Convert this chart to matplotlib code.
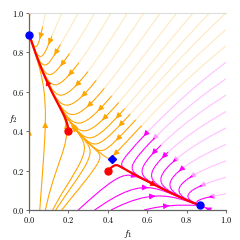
import numpy as np
import matplotlib
matplotlib.use("Agg")
import matplotlib.pyplot as plt
from matplotlib.colors import ListedColormap
from matplotlib.path import Path
from matplotlib.patches import PathPatch

plt.rcParams['font.family'] = 'serif'
plt.rcParams['font.serif'] = ['cmr10', 'DejaVu Serif']
plt.rcParams['mathtext.fontset'] = 'cm'
plt.rcParams['axes.formatter.use_mathtext'] = True

# fixed points
stable_A = (0.0, 0.89)
stable_B = (0.87, 0.025)
saddle = (0.42, 0.26)

# initial conditions of the red trajectories
start_x = [0.2, 0.4]
start_y = [0.4, 0.2]

# slow manifold through the fixed points
manifold_x = [0.0, 0.1, 0.2, 0.3, 0.42, 0.5, 0.6, 0.87, 1.0]
manifold_y = [0.89, 0.65, 0.44, 0.34, 0.26, 0.2, 0.14, 0.025, 0.0]

ticks = [0.0, 0.2, 0.4, 0.6, 0.8, 1.0]

coef = np.polyfit(manifold_x, manifold_y, 4)
dcoef = np.polyder(coef)
k_fast = 2.2
c_slow = 3.0


def field(x, y):
    m = np.polyval(coef, x)
    dm = np.polyval(dcoef, x)
    phi = y - m
    g = -c_slow * x * (x - saddle[0]) * (x - stable_B[0])
    nx = (x + 0.45) * np.tanh((x / 0.15) ** 2)
    ny = y + 0.45
    u = -k_fast * phi * nx + g
    v = -k_fast * phi * ny + g * dm
    return u, v


def rk4(x, y, dt, n):
    xs, ys = [x], [y]
    for _ in range(n):
        k1 = field(x, y)
        k2 = field(x + dt / 2 * k1[0], y + dt / 2 * k1[1])
        k3 = field(x + dt / 2 * k2[0], y + dt / 2 * k2[1])
        k4 = field(x + dt * k3[0], y + dt * k3[1])
        x = x + dt / 6 * (k1[0] + 2 * k2[0] + 2 * k3[0] + k4[0])
        y = y + dt / 6 * (k1[1] + 2 * k2[1] + 2 * k3[1] + k4[1])
        xs.append(x)
        ys.append(y)
    return np.array(xs), np.array(ys)


X, Y = np.meshgrid(np.linspace(0, 1, 101), np.linspace(0, 1, 101))
U, V = field(X, Y)
fx, fy = rk4(X.copy(), Y.copy(), 0.01, 6000)
basin = (fx[-1] > saddle[0]).astype(float)

cmap = ListedColormap(['orange', 'magenta'])

fig = plt.figure(figsize=(2.4, 2.4), dpi=100)
ax = fig.add_axes([29 / 240, 30 / 240, 197 / 240, 197 / 240])

inside = PathPatch(Path([(-0.5, -0.5), (1.5, -0.5), (-0.5, 1.5)]),
                   transform=ax.transData, visible=False)
outside = PathPatch(Path([(-0.5, 1.5), (1.5, -0.5), (1.5, 1.5)]),
                    transform=ax.transData, visible=False)

for clip, alpha in [(inside, 1.0), (outside, 0.25)]:
    n_before = len(ax.patches)
    sp = ax.streamplot(X, Y, U, V, color=basin, cmap=cmap, norm=plt.Normalize(0, 1),
                       density=0.46, linewidth=0.8, arrowsize=0.8,
                       broken_streamlines=False)
    sp.lines.set_alpha(alpha)
    sp.lines.set_clip_path(clip)
    for p in ax.patches[n_before:]:
        p.set_alpha(alpha)
        p.set_clip_path(clip)

for x0, y0 in zip(start_x, start_y):
    tx, ty = rk4(np.array(x0), np.array(y0), 0.005, 12000)
    tx, ty = np.ravel(tx), np.ravel(ty)
    end = tx[-1], ty[-1]
    keep = np.hypot(tx - end[0], ty - end[1]) > 0.004
    tx, ty = tx[keep], ty[keep]
    ax.plot(tx, ty, color='red', lw=1.6, zorder=4)
    arc = np.concatenate([[0], np.cumsum(np.hypot(np.diff(tx), np.diff(ty)))])
    i = np.searchsorted(arc, arc[-1] / 2)
    j = np.searchsorted(arc, arc[i] + 0.02)
    ax.annotate('', xy=(tx[j], ty[j]), xytext=(tx[i], ty[i]),
                arrowprops=dict(arrowstyle='-|>', color='red', lw=0.5,
                                mutation_scale=9, shrinkA=0, shrinkB=0),
                zorder=5)
ax.plot(start_x, start_y, 'o', color='red', ms=5, zorder=6)
ax.plot([stable_A[0], stable_B[0]], [stable_A[1], stable_B[1]], 'o', color='blue',
        ms=5, zorder=6, clip_on=False)
ax.plot([saddle[0]], [saddle[1]], 'D', color='blue', ms=4.5, zorder=6)

ax.set_xlim(0, 1)
ax.set_ylim(0, 1)
ax.set_xticks(ticks)
ax.set_yticks(ticks)
ax.tick_params(labelsize=6, length=2, width=0.6, color='#555555', pad=1.5)
for side in ['left', 'bottom']:
    ax.spines[side].set_color('#666666')
    ax.spines[side].set_linewidth(0.9)
ax.spines['top'].set_color('#dddddd')
ax.spines['right'].set_visible(False)
ax.set_xlabel('$f_1$', fontsize=7, labelpad=2)
ax.set_ylabel('$f_2$', fontsize=7, rotation=0)
ax.yaxis.set_label_coords(-0.08, 0.43)

fig.savefig('out.png', dpi=100)
